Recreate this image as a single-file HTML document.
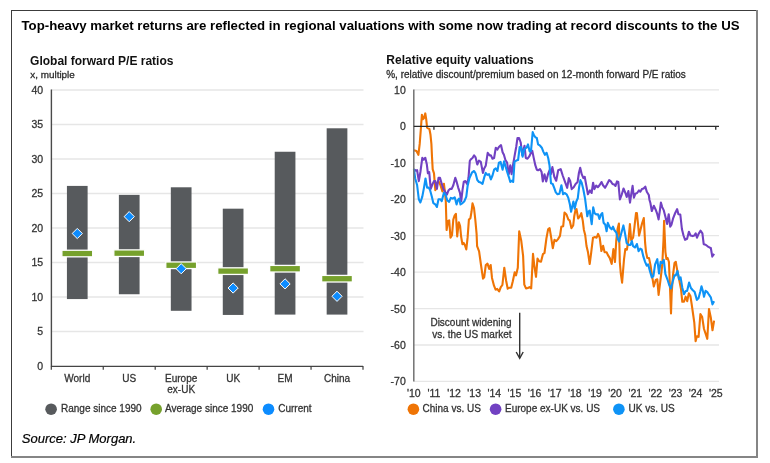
<!DOCTYPE html>
<html><head><meta charset="utf-8"><title>Relative valuations</title>
<style>html,body{margin:0;padding:0;background:#fff;}text{stroke:#333;stroke-width:0.28px;}text[font-weight]{stroke:none;}body{width:770px;height:463px;position:relative;overflow:hidden;}</style>
</head><body>
<svg width="770" height="463" viewBox="0 0 770 463" style="position:absolute;left:0;top:0;will-change:transform">
<line x1="11" y1="10.5" x2="757" y2="10.5" stroke="#3c3c3c" stroke-width="1"/>
<line x1="11.5" y1="10" x2="11.5" y2="456" stroke="#3c3c3c" stroke-width="1"/>
<line x1="757" y1="10" x2="757" y2="458" stroke="#858585" stroke-width="2"/>
<line x1="11" y1="457" x2="758" y2="457" stroke="#858585" stroke-width="2"/>
<text x="21.5" y="30" font-family='"Liberation Sans", Arial, sans-serif' font-weight="bold" font-size="13" fill="#000" textLength="718" lengthAdjust="spacingAndGlyphs">Top-heavy market returns are reflected in regional valuations with some now trading at record discounts to the US</text>
<text x="30.1" y="64.6" font-family='"Liberation Sans", Arial, sans-serif' font-weight="bold" font-size="12" fill="#111">Global forward P/E ratios</text>
<text x="30.3" y="78" font-family='"Liberation Sans", Arial, sans-serif' font-size="9.9" fill="#222">x, multiple</text>
<line x1="51.3" y1="331.5" x2="363.5" y2="331.5" stroke="#e6e6e6" stroke-width="1.3"/>
<line x1="51.3" y1="297.0" x2="363.5" y2="297.0" stroke="#e6e6e6" stroke-width="1.3"/>
<line x1="51.3" y1="262.5" x2="363.5" y2="262.5" stroke="#e6e6e6" stroke-width="1.3"/>
<line x1="51.3" y1="228.0" x2="363.5" y2="228.0" stroke="#e6e6e6" stroke-width="1.3"/>
<line x1="51.3" y1="193.5" x2="363.5" y2="193.5" stroke="#e6e6e6" stroke-width="1.3"/>
<line x1="51.3" y1="159.0" x2="363.5" y2="159.0" stroke="#e6e6e6" stroke-width="1.3"/>
<line x1="51.3" y1="124.5" x2="363.5" y2="124.5" stroke="#e6e6e6" stroke-width="1.3"/>
<line x1="51.3" y1="90.0" x2="363.5" y2="90.0" stroke="#e6e6e6" stroke-width="1.3"/>
<text x="43.1" y="369.9" text-anchor="end" font-family='"Liberation Sans", Arial, sans-serif' font-size="10.5" fill="#333">0</text>
<text x="43.1" y="335.4" text-anchor="end" font-family='"Liberation Sans", Arial, sans-serif' font-size="10.5" fill="#333">5</text>
<text x="43.1" y="300.9" text-anchor="end" font-family='"Liberation Sans", Arial, sans-serif' font-size="10.5" fill="#333">10</text>
<text x="43.1" y="266.4" text-anchor="end" font-family='"Liberation Sans", Arial, sans-serif' font-size="10.5" fill="#333">15</text>
<text x="43.1" y="231.9" text-anchor="end" font-family='"Liberation Sans", Arial, sans-serif' font-size="10.5" fill="#333">20</text>
<text x="43.1" y="197.4" text-anchor="end" font-family='"Liberation Sans", Arial, sans-serif' font-size="10.5" fill="#333">25</text>
<text x="43.1" y="162.9" text-anchor="end" font-family='"Liberation Sans", Arial, sans-serif' font-size="10.5" fill="#333">30</text>
<text x="43.1" y="128.4" text-anchor="end" font-family='"Liberation Sans", Arial, sans-serif' font-size="10.5" fill="#333">35</text>
<text x="43.1" y="93.9" text-anchor="end" font-family='"Liberation Sans", Arial, sans-serif' font-size="10.5" fill="#333">40</text>
<rect x="66.92" y="185.91" width="20.7" height="113.16" fill="#575a5d"/>
<rect x="61.87" y="250.23" width="30.8" height="6.6" fill="#76a12c" stroke="#fff" stroke-width="1.3"/>
<polygon points="77.27,228.42 82.37,233.52 77.27,238.62 72.17,233.52" fill="#0c8cff" stroke="#fff" stroke-width="1"/>
<rect x="118.88" y="194.88" width="20.7" height="99.36" fill="#575a5d"/>
<rect x="113.82" y="249.88" width="30.8" height="6.6" fill="#76a12c" stroke="#fff" stroke-width="1.3"/>
<polygon points="129.22,211.52 134.32,216.62 129.22,221.72 124.12,216.62" fill="#0c8cff" stroke="#fff" stroke-width="1"/>
<rect x="170.83" y="187.29" width="20.7" height="123.51" fill="#575a5d"/>
<rect x="165.78" y="261.96" width="30.8" height="6.6" fill="#76a12c" stroke="#fff" stroke-width="1.3"/>
<polygon points="181.18,263.61 186.28,268.71 181.18,273.81 176.08,268.71" fill="#0c8cff" stroke="#fff" stroke-width="1"/>
<rect x="222.78" y="208.68" width="20.7" height="106.26" fill="#575a5d"/>
<rect x="217.72" y="267.82" width="30.8" height="6.6" fill="#76a12c" stroke="#fff" stroke-width="1.3"/>
<polygon points="233.12,282.93 238.22,288.03 233.12,293.13 228.03,288.03" fill="#0c8cff" stroke="#fff" stroke-width="1"/>
<rect x="274.72" y="151.75" width="20.7" height="162.84" fill="#575a5d"/>
<rect x="269.68" y="265.41" width="30.8" height="6.6" fill="#76a12c" stroke="#fff" stroke-width="1.3"/>
<polygon points="285.07,278.79 290.18,283.89 285.07,288.99 279.97,283.89" fill="#0c8cff" stroke="#fff" stroke-width="1"/>
<rect x="326.67" y="128.29" width="20.7" height="186.30" fill="#575a5d"/>
<rect x="321.62" y="275.41" width="30.8" height="6.6" fill="#76a12c" stroke="#fff" stroke-width="1.3"/>
<polygon points="337.02,291.21 342.12,296.31 337.02,301.41 331.92,296.31" fill="#0c8cff" stroke="#fff" stroke-width="1"/>
<line x1="51.4" y1="89.5" x2="51.4" y2="366.0" stroke="#4a4a4a" stroke-width="1.4"/>
<line x1="50.9" y1="366.3" x2="363.0" y2="366.3" stroke="#454545" stroke-width="1.3"/>
<line x1="51.30" y1="366.0" x2="51.30" y2="369.8" stroke="#3f3f3f" stroke-width="1.2"/>
<line x1="103.25" y1="366.0" x2="103.25" y2="369.8" stroke="#3f3f3f" stroke-width="1.2"/>
<line x1="155.20" y1="366.0" x2="155.20" y2="369.8" stroke="#3f3f3f" stroke-width="1.2"/>
<line x1="207.15" y1="366.0" x2="207.15" y2="369.8" stroke="#3f3f3f" stroke-width="1.2"/>
<line x1="259.10" y1="366.0" x2="259.10" y2="369.8" stroke="#3f3f3f" stroke-width="1.2"/>
<line x1="311.05" y1="366.0" x2="311.05" y2="369.8" stroke="#3f3f3f" stroke-width="1.2"/>
<line x1="363.00" y1="366.0" x2="363.00" y2="369.8" stroke="#3f3f3f" stroke-width="1.2"/>
<text x="77.27" y="381.8" text-anchor="middle" font-family='"Liberation Sans", Arial, sans-serif' font-size="10" fill="#333">World</text>
<text x="129.22" y="381.8" text-anchor="middle" font-family='"Liberation Sans", Arial, sans-serif' font-size="10" fill="#333">US</text>
<text x="181.18" y="381.8" text-anchor="middle" font-family='"Liberation Sans", Arial, sans-serif' font-size="10" fill="#333">Europe</text>
<text x="181.18" y="392.6" text-anchor="middle" font-family='"Liberation Sans", Arial, sans-serif' font-size="10" fill="#333">ex-UK</text>
<text x="233.12" y="381.8" text-anchor="middle" font-family='"Liberation Sans", Arial, sans-serif' font-size="10" fill="#333">UK</text>
<text x="285.07" y="381.8" text-anchor="middle" font-family='"Liberation Sans", Arial, sans-serif' font-size="10" fill="#333">EM</text>
<text x="337.02" y="381.8" text-anchor="middle" font-family='"Liberation Sans", Arial, sans-serif' font-size="10" fill="#333">China</text>
<circle cx="51.1" cy="409.2" r="5.8" fill="#575a5d"/>
<text x="61" y="412.2" font-family='"Liberation Sans", Arial, sans-serif' font-size="10" fill="#333">Range since 1990</text>
<circle cx="156.2" cy="409.2" r="5.8" fill="#76a12c"/>
<text x="165.1" y="412.2" font-family='"Liberation Sans", Arial, sans-serif' font-size="10" fill="#333">Average since 1990</text>
<circle cx="268.5" cy="409.2" r="5.8" fill="#0c8cff"/>
<text x="278.2" y="412.2" font-family='"Liberation Sans", Arial, sans-serif' font-size="10" fill="#333">Current</text>
<text x="386.3" y="63.8" font-family='"Liberation Sans", Arial, sans-serif' font-weight="bold" font-size="12" fill="#111">Relative equity valuations</text>
<text x="386.2" y="77.6" font-family='"Liberation Sans", Arial, sans-serif' font-size="10" fill="#222">%, relative discount/premium based on 12-month forward P/E ratios</text>
<line x1="413.8" y1="89.8" x2="719.0" y2="89.8" stroke="#e6e6e6" stroke-width="1.3"/>
<line x1="413.8" y1="162.8" x2="719.0" y2="162.8" stroke="#e6e6e6" stroke-width="1.3"/>
<line x1="413.8" y1="199.2" x2="719.0" y2="199.2" stroke="#e6e6e6" stroke-width="1.3"/>
<line x1="413.8" y1="235.6" x2="719.0" y2="235.6" stroke="#e6e6e6" stroke-width="1.3"/>
<line x1="413.8" y1="272.1" x2="719.0" y2="272.1" stroke="#e6e6e6" stroke-width="1.3"/>
<line x1="413.8" y1="308.6" x2="719.0" y2="308.6" stroke="#e6e6e6" stroke-width="1.3"/>
<line x1="413.8" y1="345.0" x2="719.0" y2="345.0" stroke="#e6e6e6" stroke-width="1.3"/>
<line x1="413.8" y1="381.4" x2="719.0" y2="381.4" stroke="#e6e6e6" stroke-width="1.3"/>
<text x="405.8" y="93.8" text-anchor="end" font-family='"Liberation Sans", Arial, sans-serif' font-size="10.5" fill="#333">10</text>
<text x="405.8" y="130.3" text-anchor="end" font-family='"Liberation Sans", Arial, sans-serif' font-size="10.5" fill="#333">0</text>
<text x="405.8" y="166.8" text-anchor="end" font-family='"Liberation Sans", Arial, sans-serif' font-size="10.5" fill="#333">-10</text>
<text x="405.8" y="203.2" text-anchor="end" font-family='"Liberation Sans", Arial, sans-serif' font-size="10.5" fill="#333">-20</text>
<text x="405.8" y="239.6" text-anchor="end" font-family='"Liberation Sans", Arial, sans-serif' font-size="10.5" fill="#333">-30</text>
<text x="405.8" y="276.1" text-anchor="end" font-family='"Liberation Sans", Arial, sans-serif' font-size="10.5" fill="#333">-40</text>
<text x="405.8" y="312.6" text-anchor="end" font-family='"Liberation Sans", Arial, sans-serif' font-size="10.5" fill="#333">-50</text>
<text x="405.8" y="349.0" text-anchor="end" font-family='"Liberation Sans", Arial, sans-serif' font-size="10.5" fill="#333">-60</text>
<text x="405.8" y="385.4" text-anchor="end" font-family='"Liberation Sans", Arial, sans-serif' font-size="10.5" fill="#333">-70</text>
<text x="413.80" y="396.8" text-anchor="middle" font-family='"Liberation Sans", Arial, sans-serif' font-size="10.5" fill="#333">'10</text>
<text x="433.93" y="396.8" text-anchor="middle" font-family='"Liberation Sans", Arial, sans-serif' font-size="10.5" fill="#333">'11</text>
<text x="454.06" y="396.8" text-anchor="middle" font-family='"Liberation Sans", Arial, sans-serif' font-size="10.5" fill="#333">'12</text>
<text x="474.19" y="396.8" text-anchor="middle" font-family='"Liberation Sans", Arial, sans-serif' font-size="10.5" fill="#333">'13</text>
<text x="494.32" y="396.8" text-anchor="middle" font-family='"Liberation Sans", Arial, sans-serif' font-size="10.5" fill="#333">'14</text>
<text x="514.45" y="396.8" text-anchor="middle" font-family='"Liberation Sans", Arial, sans-serif' font-size="10.5" fill="#333">'15</text>
<text x="534.58" y="396.8" text-anchor="middle" font-family='"Liberation Sans", Arial, sans-serif' font-size="10.5" fill="#333">'16</text>
<text x="554.71" y="396.8" text-anchor="middle" font-family='"Liberation Sans", Arial, sans-serif' font-size="10.5" fill="#333">'17</text>
<text x="574.84" y="396.8" text-anchor="middle" font-family='"Liberation Sans", Arial, sans-serif' font-size="10.5" fill="#333">'18</text>
<text x="594.97" y="396.8" text-anchor="middle" font-family='"Liberation Sans", Arial, sans-serif' font-size="10.5" fill="#333">'19</text>
<text x="615.10" y="396.8" text-anchor="middle" font-family='"Liberation Sans", Arial, sans-serif' font-size="10.5" fill="#333">'20</text>
<text x="635.23" y="396.8" text-anchor="middle" font-family='"Liberation Sans", Arial, sans-serif' font-size="10.5" fill="#333">'21</text>
<text x="655.36" y="396.8" text-anchor="middle" font-family='"Liberation Sans", Arial, sans-serif' font-size="10.5" fill="#333">'22</text>
<text x="675.49" y="396.8" text-anchor="middle" font-family='"Liberation Sans", Arial, sans-serif' font-size="10.5" fill="#333">'23</text>
<text x="695.62" y="396.8" text-anchor="middle" font-family='"Liberation Sans", Arial, sans-serif' font-size="10.5" fill="#333">'24</text>
<text x="715.75" y="396.8" text-anchor="middle" font-family='"Liberation Sans", Arial, sans-serif' font-size="10.5" fill="#333">'25</text>
<polyline points="413.9,150.3 416.5,151 418.4,154.9 419.7,143.9 421,127 421.9,114.7 423,119.2 424,118 425.3,113.4 426.2,119.2 427.1,127.7 428.1,128.3 429.4,129 430.5,134.8 431.4,143.9 432,156.8 432.7,169.4 434,173.3 435.3,190.2 436.6,183.7 438.5,181.1 440.4,185 442.4,191.5 443.9,183.7 445,192.7 445.8,201.5 446.6,230 448.1,220.9 449.2,220.3 450.5,237.7 452,235.2 453.3,219.6 454.6,215.7 455.9,213.8 457.2,236.5 458.8,222.2 460.1,226.1 461.1,236.5 462.4,244.2 463.7,242.9 465,245.5 466.3,249.4 467.6,237.7 468.9,219.6 470.4,218.3 471.5,211.8 472.5,203.4 474,208 475.3,219.6 476.6,233.9 477.1,246.2 479.1,251.4 481,265 483,278.6 484.2,277.3 485.8,265 487.5,263.7 489.2,268.9 490.7,265 492,277.9 494,285.7 495.6,289.6 497.2,288.9 499.1,291.5 500.8,287.2 502.4,285 504.3,267.7 506.1,280.5 507.7,288.7 509.5,287.7 511.2,287.7 512.8,281.2 514.7,272.2 516,275.4 517.8,267.7 519.2,231.3 521.2,240.4 523.1,255.9 524.3,284.6 526,288.4 527.8,288 529.5,287.1 531.2,288.4 532.1,271.6 533,253.9 534.3,265.6 536,276.8 537.5,258.6 539.2,261.2 541,261.7 542.9,254.2 544.5,253 546.4,238.5 548.1,229.4 549.6,228.1 550.9,235.9 552.8,248.2 554.5,239.8 556.3,241.1 558,239.1 560,235.9 561.3,226.8 563.2,226.2 564.5,212.6 566.5,214.5 568.4,219.7 569.7,220.4 571.4,228.1 573.2,225.5 574.2,216.5 575.5,210 576.5,209 578.1,218.4 579.4,217.1 581.3,213.2 582.8,220.9 583.9,230 585.2,235 586.5,246 588,252.3 589.7,264 591,254.2 593,237.7 594.9,237.1 596.6,237.7 598.1,233.9 599.7,237.7 600.7,245.5 601.4,251 603.1,245.8 604.6,252.3 606.6,252.3 607.8,254.9 609.8,258.1 611.7,264 613.4,249.1 615,262 616.3,240 617.6,228.7 618.9,223.5 619.8,262 620.8,273.7 622.1,282.7 624,259.4 625.3,249.1 626.9,249.7 628.6,239 629.9,224.1 631.2,240.3 633.1,237.7 634.4,227.4 636,213.1 636.9,213 638.2,225.9 639.1,235.6 640.8,228.5 642.1,223.3 643.8,218.1 645.1,242.7 646,251.8 647.3,258 649,258 650.5,265.1 652.1,276.1 653.8,286.5 655.7,280 657.3,279.3 658.6,294.9 660.3,281.3 662.2,265.7 663.5,240 664.1,220.7 665.4,251.8 666.4,259 667.6,258 668.9,261.8 670,287.7 671,313.5 671.7,292.8 673,275 674.5,263.1 675.8,261.8 677.1,269.6 679,278.7 681,289 682.3,301.8 684,301.8 685.6,296.7 687.2,301.2 688.8,293.4 690.4,296 691.7,304.4 693,313.5 694.3,322.6 695.6,341.3 696.9,336.2 698.6,336.8 700.4,314.1 702.1,316.7 704,329 705.6,333.6 707.3,338.8 709,309 710.8,317.4 712.5,330.3 714.1,320.6" fill="none" stroke="#ef7405" stroke-width="2.1" stroke-linejoin="round"/>
<polyline points="413.9,169.4 415.8,170.7 417.1,170.1 418.8,181.1 420.4,172 422.3,157.8 423.6,159.7 425.3,157.8 426.8,164.2 427.9,173.3 429.2,172 430.7,188.9 432.7,183.7 434,181.1 435.3,181.1 436.9,188.9 438.5,177.8 440,177.8 441.7,183.7 443.4,188.9 445,191.5 446.9,194.7 448.6,190.2 450.2,188.9 451.7,188.9 453.4,185 455.3,177.8 456.6,181.7 458.2,187.6 459.9,192.7 461.2,201.2 462.5,190.2 463.8,181.7 465.4,181.1 467.3,184.3 468.5,177.8 469.8,161 470.8,159.3 472.5,158 474.1,155.4 475.6,157.4 477.3,164.5 479,160.6 480.8,161.9 482.9,172.9 484.2,168.4 485.7,165.8 487.7,152.8 489.6,155.4 490.9,155.4 492.5,158.7 494.1,158 495.8,147.7 497.4,149.6 498.9,147 501,145.1 502.6,152.2 503.9,154.8 505.4,160 507.1,162.6 508.8,174.2 510.3,165.2 511.6,174.2 513.2,163.9 514.9,154.1 516.2,147 517.5,138 519.1,138 520.7,142.5 522.3,155 524.5,145.7 525.8,158 527.5,158.7 529.1,156.7 531,152.8 532.3,150.9 533.6,157.4 535.3,165.2 536.8,169.7 538.1,170.3 540,169 541.6,172 542.8,181.4 544.5,174.2 546.2,181.4 548,174.2 549.6,170 550.8,174.2 552.4,167.1 554.3,176.8 556.2,180.7 558.2,170.3 560.7,169.1 562.7,175.5 565.3,182.7 567.2,187.8 568.8,178.1 570.2,181 571.7,189.1 573.7,187.2 575.6,184 577.6,182 578.9,173 580.2,167.8 581.7,174.2 583.4,178.1 584.7,176.8 586.4,185.9 587.9,194.3 589.9,190.4 591.6,193 593.1,182.7 594.4,189.1 596.2,185.6 597.8,187.2 599.5,185.3 601.5,182 603,185.3 605.1,187.8 606.9,184.6 609.2,180.1 610.8,181.4 612.5,184 614.2,184.6 615.5,185.9 617,181.4 618.3,182 619.9,199.5 621.6,195 623.5,188.5 625.4,193 626.7,196.9 628.4,191.1 630,202.7 631.3,193.7 632.6,185.9 633.9,197.6 635.4,193.7 637.1,193 639,190.4 640.3,191.7 641.9,189.1 643.6,188.5 645.3,186.6 646.8,191.7 648.8,195 649.5,200 650.4,203 651.8,211 653.8,205.8 655.7,209.7 657.3,214.2 658.6,219.4 659.9,210.4 660.9,202.6 662.2,207.1 663.8,210.4 665.4,216.8 667.1,224 668.7,214.2 670.2,226.6 671.5,224.6 673.2,218.1 675.2,213 677.1,209.1 678.4,214.2 680.3,214.5 681.9,229 683.5,235.5 685.1,239.8 687.1,238.8 688.9,231.7 690.5,235.5 692.7,236.1 694.3,235.5 695.7,233.4 697,237.7 698.6,233.9 700.5,230.7 702.4,233.4 703.7,244.2 705.6,244.7 707.6,246.3 709.4,247.4 710.8,247.9 712.3,256.6 713.2,255 714.3,253.9" fill="none" stroke="#7141c2" stroke-width="2.1" stroke-linejoin="round"/>
<polyline points="413.9,168.8 415.2,178.5 417.1,185 418.8,199.2 420.4,202.5 422.3,196.6 424,187.6 425.5,178.5 427.1,187.6 428.8,187.6 430.1,190.2 431.8,196.6 433.3,203.1 435.3,204.4 436.9,207 438.5,199.2 440.4,199.2 441.7,201.2 443.9,192.7 445.6,194.7 447.3,200.5 449.1,201.8 450.8,197.9 452.7,198.6 454.7,197.3 456.6,204.4 457.9,199.9 459.2,198.6 460.5,204.4 462.5,203.1 464.4,201.2 466.3,196.6 467.6,186 469.5,178.1 472.1,172.3 474.1,171 475.6,173.6 477.3,180 479,182 480.8,182.6 482.5,183.9 484.4,176.8 485.7,172.9 487.3,174.9 489,174.2 490.9,179.4 492.5,175.5 494.1,169.7 495.8,168.4 497.4,171 498.9,162.6 500.6,161.9 502.6,169.7 504.1,161.3 507.1,171.6 508.8,176.8 510.3,182 511.9,180.7 513.2,182 514.5,161.9 516.2,160.6 518.1,160 519.7,147 521,147 522.6,156.7 524.4,149 526.5,147.7 528,144.4 529.7,151.6 531,150.9 532.7,132.1 534,135.4 535.5,137.3 536.8,138 538.1,144.4 540.1,145.7 541.8,147.7 543.3,151.6 544.9,154.8 546.6,152.8 548.2,158 549.5,165.2 551,183.3 552.7,184 554.2,187.8 555.8,192.4 557.5,194.3 559.4,193.7 561.4,185.3 563.1,194.3 564.6,193 566.6,194.3 568.2,197.6 569.8,204 571.1,211.8 573.4,201.5 574.7,208.6 576.3,201.5 577.8,198.2 579.1,187.2 580.4,180.1 581.7,182.7 583.4,189.8 585.1,198.9 586.4,209.2 587.3,216.3 588.3,211.8 589.7,210.5 591.7,224.1 593.2,207.3 594.5,213.1 596.2,214.4 598.1,214.4 599.4,219 601,214.4 602.3,213.1 603.6,222.8 605.3,224.8 606.6,231.3 607.8,222.8 609.8,227.4 611.7,229.3 613,226.7 614.3,230 616.3,232.6 617.8,239 619.1,241.6 621.5,232.6 623.4,225.4 625.1,233.9 626.6,242.9 628.6,244.9 630.5,244.9 631.8,241 633.1,246.2 635.1,247.5 636.9,244 638.6,251.3 640.2,248.7 641.7,249.4 643.4,256.7 645.1,261.8 646.7,265.7 648.2,264.4 649.9,270.9 651.8,277.4 653.4,276.1 655.1,264.4 657.3,259.2 659,273.5 660.6,261.8 662.2,263.1 663.8,259.9 665.4,274.1 667.4,279.3 669.3,285.2 671,288.4 672.8,281.3 674.5,275.4 675.8,275.4 677.5,270.9 679,279.3 680.6,277.4 682.3,287.7 684,294.2 685.7,291 687.1,291 689.1,282.5 690.9,288 692.6,290 694.7,292.1 696.9,299.9 698.6,298 700.2,292.1 701.5,286.3 703,291.5 704,296.7 705.6,290.8 707.3,292.1 709,294.7 710.8,297.3 712.5,304.4 714.1,301.2" fill="none" stroke="#0e93f6" stroke-width="2.1" stroke-linejoin="round"/>
<line x1="413.8" y1="89.5" x2="413.8" y2="381.4" stroke="#727272" stroke-width="1.5"/>
<line x1="413.8" y1="126.39999999999999" x2="719.0" y2="126.39999999999999" stroke="#2b2b2b" stroke-width="1.2"/>
<line x1="433.93" y1="126.3" x2="433.93" y2="129.8" stroke="#2b2b2b" stroke-width="1.3"/>
<line x1="454.06" y1="126.3" x2="454.06" y2="129.8" stroke="#2b2b2b" stroke-width="1.3"/>
<line x1="474.19" y1="126.3" x2="474.19" y2="129.8" stroke="#2b2b2b" stroke-width="1.3"/>
<line x1="494.32" y1="126.3" x2="494.32" y2="129.8" stroke="#2b2b2b" stroke-width="1.3"/>
<line x1="514.45" y1="126.3" x2="514.45" y2="129.8" stroke="#2b2b2b" stroke-width="1.3"/>
<line x1="534.58" y1="126.3" x2="534.58" y2="129.8" stroke="#2b2b2b" stroke-width="1.3"/>
<line x1="554.71" y1="126.3" x2="554.71" y2="129.8" stroke="#2b2b2b" stroke-width="1.3"/>
<line x1="574.84" y1="126.3" x2="574.84" y2="129.8" stroke="#2b2b2b" stroke-width="1.3"/>
<line x1="594.97" y1="126.3" x2="594.97" y2="129.8" stroke="#2b2b2b" stroke-width="1.3"/>
<line x1="615.10" y1="126.3" x2="615.10" y2="129.8" stroke="#2b2b2b" stroke-width="1.3"/>
<line x1="635.23" y1="126.3" x2="635.23" y2="129.8" stroke="#2b2b2b" stroke-width="1.3"/>
<line x1="655.36" y1="126.3" x2="655.36" y2="129.8" stroke="#2b2b2b" stroke-width="1.3"/>
<line x1="675.49" y1="126.3" x2="675.49" y2="129.8" stroke="#2b2b2b" stroke-width="1.3"/>
<line x1="695.62" y1="126.3" x2="695.62" y2="129.8" stroke="#2b2b2b" stroke-width="1.3"/>
<line x1="715.75" y1="126.3" x2="715.75" y2="129.8" stroke="#2b2b2b" stroke-width="1.3"/>
<text x="511.6" y="326.2" text-anchor="end" font-family='"Liberation Sans", Arial, sans-serif' font-size="10" fill="#333">Discount widening</text>
<text x="511.6" y="337.9" text-anchor="end" font-family='"Liberation Sans", Arial, sans-serif' font-size="10" fill="#333">vs. the US market</text>
<line x1="519.7" y1="312.8" x2="519.7" y2="358" stroke="#333" stroke-width="1.4"/>
<polyline points="516.2,352 519.7,358.4 523.2,352" fill="none" stroke="#333" stroke-width="1.4"/>
<circle cx="413.4" cy="409.2" r="5.8" fill="#ef7405"/>
<text x="422.5" y="412.2" font-family='"Liberation Sans", Arial, sans-serif' font-size="10" fill="#333">China vs. US</text>
<circle cx="495.6" cy="409.2" r="5.8" fill="#7141c2"/>
<text x="505" y="412.2" font-family='"Liberation Sans", Arial, sans-serif' font-size="10" fill="#333">Europe ex-UK vs. US</text>
<circle cx="618.9" cy="409.2" r="5.8" fill="#0e93f6"/>
<text x="628.6" y="412.2" font-family='"Liberation Sans", Arial, sans-serif' font-size="10" fill="#333">UK vs. US</text>
<text x="21.8" y="442.7" font-family='"Liberation Sans", Arial, sans-serif' font-style="italic" font-size="13" fill="#000" style="stroke:#000;stroke-width:0.2px">Source: JP Morgan.</text>
</svg>
</body></html>
